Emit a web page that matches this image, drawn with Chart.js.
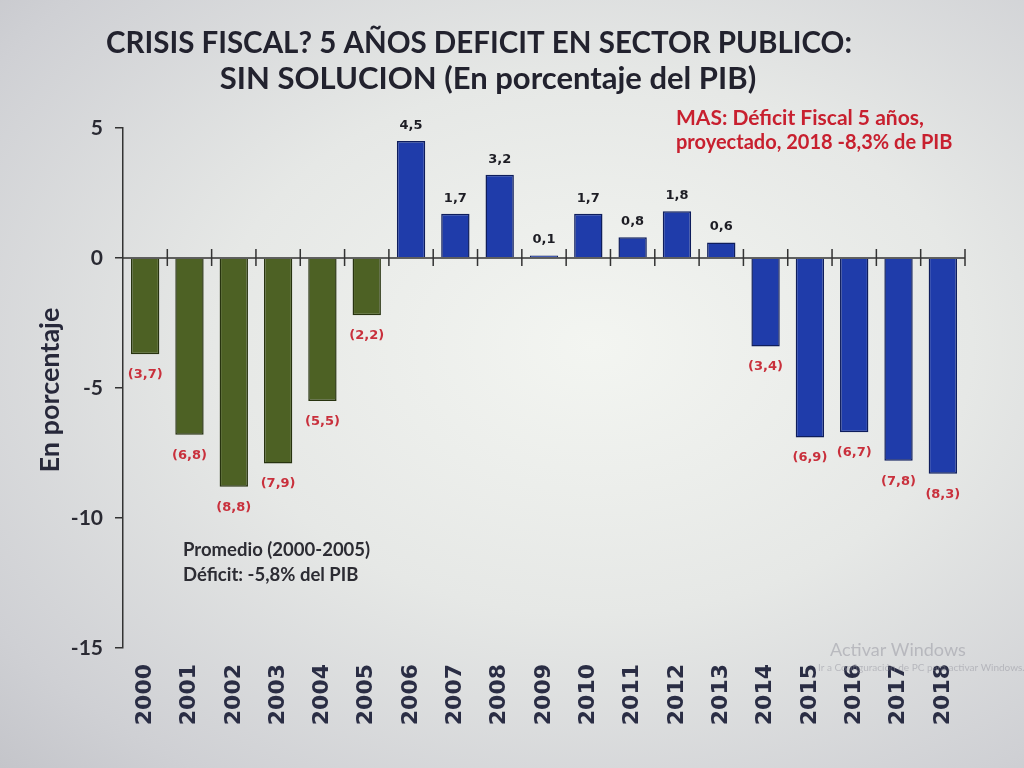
<!DOCTYPE html>
<html>
<head>
<meta charset="utf-8">
<script src="https://cdn.jsdelivr.net/npm/chart.js@4"></script>
<style>
  html, body { margin: 0; padding: 0; }
  body {
    width: 1024px; height: 768px; overflow: hidden;
    background: radial-gradient(ellipse at 58% 45%, #f3f5f1 0%, #e6e8e6 45%, #cfd0d4 85%, #c4c5ca 100%);
  }
  canvas { display: block; }
</style>
</head>
<body>
<canvas id="c" width="1024" height="768"></canvas>
<script>
const years = ['2000','2001','2002','2003','2004','2005','2006','2007','2008','2009',
               '2010','2011','2012','2013','2014','2015','2016','2017','2018'];
const values = [-3.7, -6.8, -8.8, -7.9, -5.5, -2.2, 4.5, 1.7, 3.2, 0.1,
                 1.7, 0.8, 1.8, 0.6, -3.4, -6.9, -6.7, -7.8, -8.3];
const periodGroup = ['a','a','a','a','a','a','b','b','b','b','b','b','b','b','b','b','b','b','b'];
const yTicks = [5, 0, -5, -10, -15];
const titleLines = ['CRISIS FISCAL? 5 AÑOS DEFICIT EN SECTOR PUBLICO:', 'SIN SOLUCION (En porcentaje del PIB)'];
const noteLines = ['MAS: Déficit Fiscal 5 años,', 'proyectado, 2018 -8,3% de PIB'];
const avgLines = ['Promedio (2000-2005)', 'Déficit: -5,8% del PIB'];
const yTitle = 'En porcentaje';

const fillColors = { a: '#4d6124', b: '#1f3caa' };
const edgeColors = { a: '#27330f', b: '#0e1d5c' };

function fmt(v) {
  const s = Math.abs(v).toFixed(1).replace('.', ',');
  return v < 0 ? '(' + s + ')' : s;
}

const decor = {
  id: 'decor',
  afterDatasetsDraw(chart) {
    const ctx = chart.ctx;
    const x = chart.scales.x, y = chart.scales.y;
    const y0 = y.getPixelForValue(0);
    ctx.save();
    // zero axis line with crossing tick marks at category boundaries
    ctx.strokeStyle = '#333';
    ctx.lineWidth = 1.5;
    ctx.beginPath();
    ctx.moveTo(chart.chartArea.left, y0);
    ctx.lineTo(chart.chartArea.right, y0);
    for (let i = 0; i < years.length; i++) {
      const bx = (x.getPixelForValue(i) + (i < years.length - 1 ? x.getPixelForValue(i + 1) : 2 * x.getPixelForValue(i) - x.getPixelForValue(i - 1))) / 2;
      ctx.moveTo(bx, y0 - 9);
      ctx.lineTo(bx, y0 + 8);
    }
    ctx.stroke();

    // value labels
    const meta = chart.getDatasetMeta(0);
    ctx.font = 'bold 13px "DejaVu Sans"';
    ctx.textAlign = 'center';
    meta.data.forEach((bar, i) => {
      const v = values[i];
      if (v < 0) {
        ctx.fillStyle = '#c9303c';
        ctx.textBaseline = 'top';
        ctx.fillText(fmt(v), bar.x, bar.y + 14);
      } else {
        ctx.fillStyle = '#1d1d24';
        ctx.textBaseline = 'bottom';
        ctx.fillText(fmt(v), bar.x, bar.y - 9);
      }
    });

    // title
    ctx.fillStyle = '#22222e';
    ctx.textBaseline = 'middle';
    ctx.textAlign = 'center';
    ctx.font = 'bold 29.5px Lato';
    ctx.fillText(titleLines[0], 479, 43);
    ctx.font = 'bold 31px Lato';
    ctx.fillText(titleLines[1], 488, 79);

    // red note
    ctx.fillStyle = '#c8202f';
    ctx.textAlign = 'left';
    ctx.font = 'bold 21px Lato';
    ctx.fillText(noteLines[0], 676, 118);
    ctx.font = 'bold 20px Lato';
    ctx.fillText(noteLines[1], 676, 143);

    // average note
    ctx.fillStyle = '#2c2c33';
    ctx.font = 'bold 18.5px Lato';
    ctx.fillText(avgLines[0], 183, 550);
    ctx.fillText(avgLines[1], 183, 575);

    // y title
    ctx.save();
    ctx.translate(50, 390);
    ctx.rotate(-Math.PI / 2);
    ctx.textAlign = 'center';
    ctx.fillStyle = '#27283a';
    ctx.font = 'bold 27px Lato';
    ctx.fillText(yTitle, 0, 0);
    ctx.restore();

    // faint OS watermark
    ctx.fillStyle = 'rgba(140,140,150,0.45)';
    ctx.font = '18px Lato';
    ctx.fillText('Activar Windows', 830, 650);
    ctx.font = '10px Lato';
    ctx.fillText('Ir a Configuración de PC para activar Windows.', 818, 668);
    ctx.restore();
  }
};

new Chart(document.getElementById('c'), {
  type: 'bar',
  data: {
    labels: years,
    datasets: [{
      data: values,
      backgroundColor: ctx => fillColors[periodGroup[ctx.dataIndex]],
      borderColor: ctx => edgeColors[periodGroup[ctx.dataIndex]],
      borderWidth: 1.5,
      barPercentage: 0.64,
      categoryPercentage: 1.0
    }]
  },
  options: {
    responsive: false,
    animation: false,
    events: [],
    layout: { padding: { top: 128, right: 59, left: 0, bottom: 0 } },
    plugins: { legend: { display: false }, tooltip: { enabled: false }, title: { display: false } },
    scales: {
      x: {
        grid: { display: false, drawTicks: false },
        border: { display: false },
        ticks: {
          color: '#2a2d44',
          font: { family: 'DejaVu Sans', weight: 'bold', size: 22 },
          minRotation: 90, maxRotation: 90,
          padding: 16,
          autoSkip: false
        },
        afterFit(s) { s.height = 120; }
      },
      y: {
        min: -15, max: 5,
        afterBuildTicks(s) { s.ticks = yTicks.map(v => ({ value: v })); },
        grid: { drawOnChartArea: false, drawTicks: true, tickLength: 8, color: '#333', lineWidth: 1.5 },
        border: { display: true, color: '#333', width: 1.5 },
        ticks: {
          color: '#2a2a33',
          font: { family: 'Lato', weight: 'bold', size: 21 },
          padding: 12
        },
        afterFit(s) { s.width = 123; }
      }
    }
  },
  plugins: [decor]
});
</script>
</body>
</html>
